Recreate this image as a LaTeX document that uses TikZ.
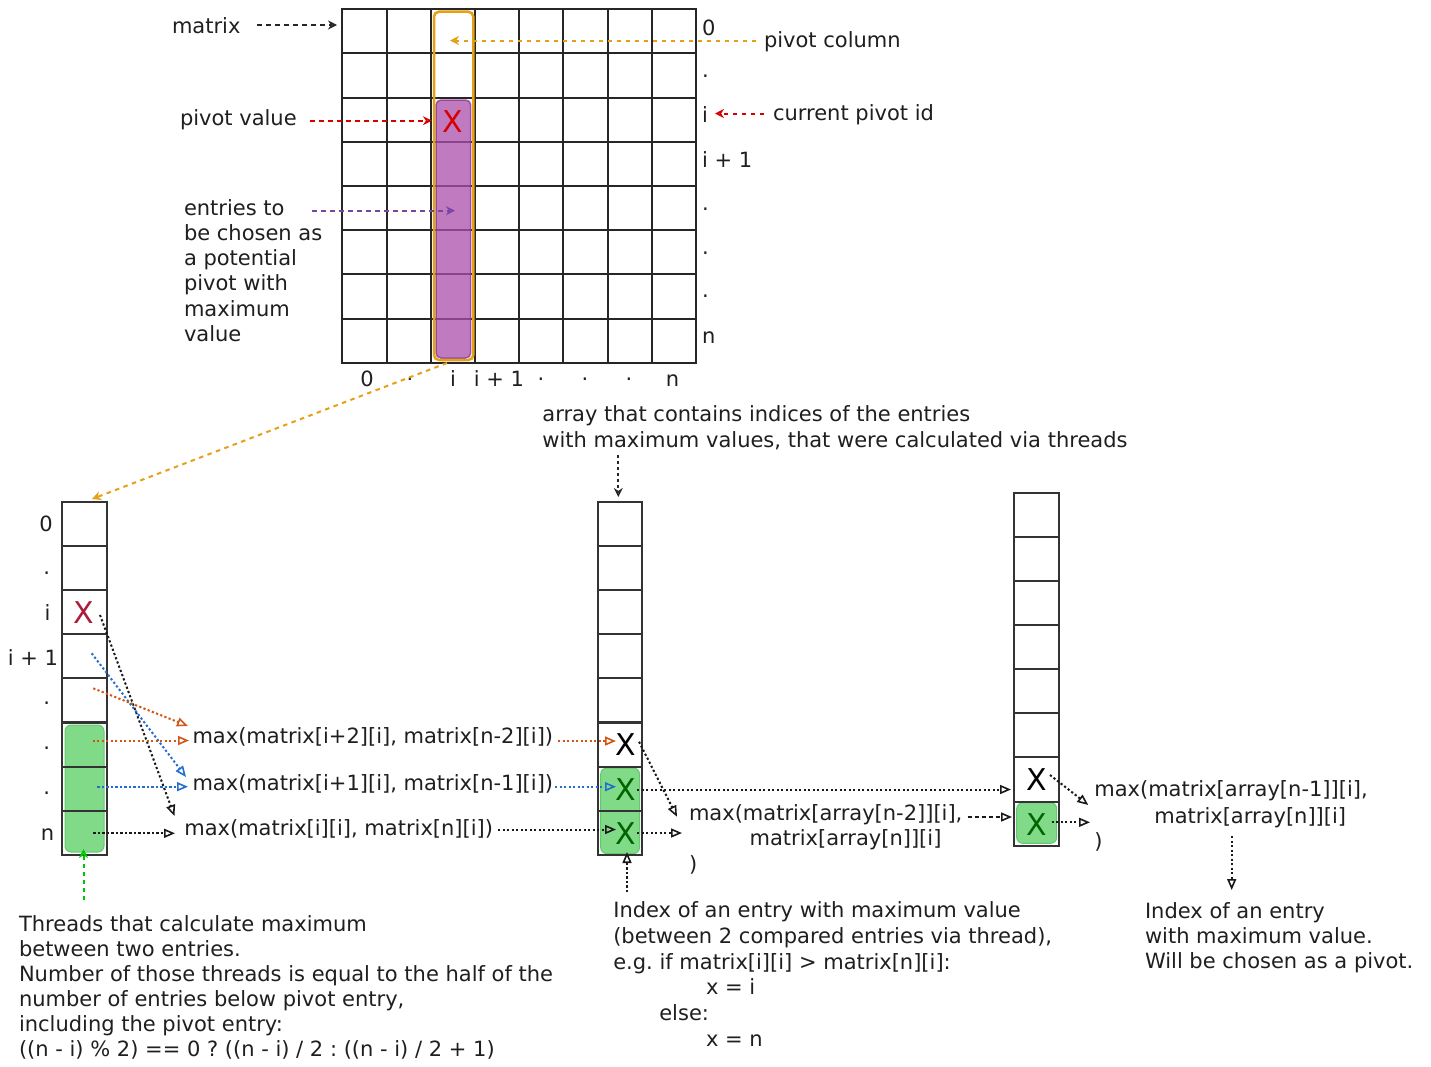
\documentclass[tikz,border=0pt]{standalone}
\usepackage{fontspec}
\setmainfont{DejaVu Sans}
\usetikzlibrary{arrows.meta}
\frenchspacing
\definecolor{pivorange}{RGB}{230,160,20}
\definecolor{pivred}{RGB}{214,0,0}
\definecolor{pivpurple}{RGB}{171,80,171}
\definecolor{purpstroke}{RGB}{140,60,140}
\definecolor{purparrow}{RGB}{120,70,160}
\definecolor{xcrimson}{RGB}{170,30,60}
\definecolor{throrange}{RGB}{210,85,20}
\definecolor{thrblue}{RGB}{35,110,205}
\definecolor{grnfill}{RGB}{128,218,136}
\definecolor{grnline}{RGB}{100,200,110}
\definecolor{darkgrn}{RGB}{0,100,0}
\definecolor{grnarrow}{RGB}{0,200,0}
\begin{document}
\frenchspacing
\begin{tikzpicture}[x=1pt,y=-1pt,
  txt/.style={inner sep=0pt, outer sep=0pt, anchor=base west, text=black!88, font=\fontsize{21}{25.4}\selectfont\frenchspacing},
  lbl/.style={txt, anchor=base},
  gridline/.style={line width=2pt, black!85, line cap=rect},
  cellbox/.style={draw=black!80, line width=2pt, minimum width=#1, minimum height=44.1pt, inner sep=0pt, outer sep=0pt},
  xmark/.style={inner sep=0pt, outer sep=0pt, font=\fontsize{30}{30}\selectfont},
  grnbox/.style={fill=grnfill, draw=grnline, line width=1pt, rounded corners=6pt},
  dashArr/.style={line width=2pt, dash pattern=on 4.5pt off 4.5pt, -{Stealth[length=9pt,width=9pt,open,line width=1.6pt]}},
  dotArr/.style={line width=2pt, dash pattern=on 2.2pt off 2.3pt, -{Triangle[open,length=11pt,width=9pt,line width=1.6pt]}},
]
\useasboundingbox (0,0) rectangle (1431,1066);
\fill[white] (0,0) rectangle (1431,1066);

% ---------------- matrix grid ----------------
\foreach \i in {0,...,8} {
  \draw[gridline] ({342.3+44.21*\i},9.3) -- ({342.3+44.21*\i},362.7);
  \draw[gridline] (342.3,{9.3+44.18*\i}) -- (696,{9.3+44.18*\i});
}
\node[draw=purpstroke, fill=pivpurple, fill opacity=0.75, draw opacity=0.8, line width=1.5pt,
      rounded corners=5pt, minimum width=34.7pt, minimum height=258pt, inner sep=0pt, outer sep=0pt]
      (cand) at (453.35,229) {};
\node[draw=pivorange, line width=2.5pt, rounded corners=5pt, minimum width=39.3pt,
      minimum height=348.3pt, inner sep=0pt, outer sep=0pt] (pivcol) at (453.65,185.85) {};
\node[xmark, text=pivred] (mX) at (452.5,121.7) {X};

% right-hand row labels
\node[txt] (r0) at (702,35) {0};
\node[txt] (r1) at (702,77) {.};
\node[txt] (r2) at (702,122) {i};
\node[txt] (r3) at (702,167) {i + 1};
\node[txt] (r4) at (702,210) {.};
\node[txt] (r5) at (702,254) {.};
\node[txt] (r6) at (702,297) {.};
\node[txt] (r7) at (702,343) {n};
% bottom column labels
\node[lbl] (c0) at (367,386) {0};
\node[lbl] (c1) at (410,386) {·};
\node[lbl] (c2) at (453,386) {i};
\node[lbl] (c3) at (499,386) {i + 1};
\node[lbl] (c4) at (541,386) {·};
\node[lbl] (c5) at (585,386) {·};
\node[lbl] (c6) at (629,386) {·};
\node[lbl] (c7) at (672.5,386) {n};

% left-hand annotations
\node[txt] (tMatrix) at (172,33.3) {matrix};
\node[txt] (tPivVal) at (180,125.5) {pivot value};
\node[txt, align=left, font=\fontsize{21}{25.3}\selectfont] (tEntries) at (184,341.5)
  {entries to\\be chosen as\\a potential\\pivot with\\maximum\\value};
\node[txt] (tPivCol) at (764,47) {pivot column};
\node[txt] (tCurId) at (773,120) {current pivot id};

\coordinate (aMs) at (257,25);      \coordinate (aMe) at (337,25);
\coordinate (aPVs) at (310,120.7);  \coordinate (aPVe) at (432,120.7);
\coordinate (aPCs) at (756,40.5);   \coordinate (aPCe) at (450,40.5);
\coordinate (aCIs) at (764,113.5);  \coordinate (aCIe) at (715,113.5);
\coordinate (aEs) at (312,210.7);   \coordinate (aEe) at (455,210.7);
\coordinate (aDs) at (447,363);     \coordinate (aDe) at (92,499);
\draw[dashArr, black!85] (aMs) -- (aMe);
\draw[dashArr, pivred] (aPVs) -- (aPVe);
\draw[dashArr, pivorange] (aPCs) -- (aPCe);
\draw[dashArr, pivred] (aCIs) -- (aCIe);
\draw[dashArr, purparrow] (aEs) -- (aEe);
\draw[dashArr, pivorange] (aDs) -- (aDe);

% ---------------- left array ----------------
\node[grnbox, minimum width=39pt, minimum height=127pt, inner sep=0pt] (Lg) at (84.5,788.5) {};
\foreach \k in {0,...,7} {
  \node[cellbox=44.2pt] (L\k) at (84.4,{501.7+44.16*\k+22.08}) {};
}
\node[xmark, text=xcrimson] (LX) at (83.3,612.7) {X};
\node[lbl] (l0) at (46,531.7) {0};
\node[lbl] (l1) at (46.7,574) {.};
\node[lbl] (l2) at (47.5,620) {i};
\node[lbl] (l3) at (33,665) {i + 1};
\node[lbl] (l4) at (46.7,704) {.};
\node[lbl] (l5) at (46.7,749) {.};
\node[lbl] (l6) at (46.7,794) {.};
\node[lbl] (l7) at (47.5,840) {n};

% thread labels
\node[txt] (m2) at (192.5,743.3) {max(matrix[i+2][i], matrix[n-2][i])};
\node[txt] (m1) at (192.5,790) {max(matrix[i+1][i], matrix[n-1][i])};
\node[txt] (m0) at (184.3,835) {max(matrix[i][i], matrix[n][i])};

\coordinate (t1s) at (100,615);    \coordinate (t1e) at (174.5,816);
\coordinate (t2s) at (91.7,653.3); \coordinate (t2e) at (186,777);
\coordinate (t3s) at (93.3,688.3); \coordinate (t3e) at (188,726);
\coordinate (t4s) at (92.7,740.5); \coordinate (t4e) at (189,740.5);
\coordinate (t5s) at (97.3,786.7); \coordinate (t5e) at (188,786.7);
\coordinate (t6s) at (93.3,833.3); \coordinate (t6e) at (175,833.3);
\draw[dotArr, black!90] (t1s) -- (t1e);
\draw[dotArr, thrblue] (t2s) -- (t2e);
\draw[dotArr, throrange] (t3s) -- (t3e);
\draw[dotArr, throrange] (t4s) -- (t4e);
\draw[dotArr, thrblue] (t5s) -- (t5e);
\draw[dotArr, black!90] (t6s) -- (t6e);

% green thread arrow + text
\coordinate (gS) at (83.5,900); \coordinate (gE) at (83.5,849);
\draw[dashArr, grnarrow, dash pattern=on 4pt off 4pt] (gS) -- (gE);
\node[txt, align=left, font=\fontsize{21}{25.0}\selectfont\frenchspacing] (tThreads) at (19,1056.7)
  {Threads that calculate maximum\\between two entries.\\Number of those threads is equal to the half of the\\number of entries below pivot entry,\\including the pivot entry:\\((n - i) \% 2) == 0 ? ((n - i) / 2 : ((n - i) / 2 + 1)};

% ---------------- middle array ----------------
\node[grnbox, minimum width=38.8pt, minimum height=85.5pt, inner sep=0pt] (Mg) at (620.1,810.8) {};
\foreach \k in {0,...,7} {
  \node[cellbox=43.8pt] (M\k) at (619.9,{501.7+44.16*\k+22.08}) {};
}
\node[xmark, text=black] (MX5) at (625.7,745) {X};
\node[xmark, text=darkgrn] (MX6) at (625.7,790) {X};
\node[xmark, text=darkgrn] (MX7) at (625.7,833.3) {X};

\node[txt, align=left] (tArray) at (542.4,447)
  {array that contains indices of the entries\\with maximum values, that were calculated via threads};
\coordinate (arS) at (618.3,455); \coordinate (arE) at (618.3,497);
\draw[dashArr, black!85, dash pattern=on 3pt off 3pt] (arS) -- (arE);

\coordinate (o1s) at (558,741);   \coordinate (o1e) at (616,741);
\coordinate (o2s) at (555,786.7); \coordinate (o2e) at (616,786.7);
\coordinate (o3s) at (498,829.5); \coordinate (o3e) at (616,829.5);
\draw[dotArr, throrange] (o1s) -- (o1e);
\draw[dotArr, thrblue] (o2s) -- (o2e);
\draw[dotArr, black!90] (o3s) -- (o3e);

\coordinate (iS) at (627,892); \coordinate (iE) at (627,852);
\draw[dotArr, black!90] (iS) -- (iE);
\node[txt, align=left, font=\fontsize{21}{25.8}\selectfont\frenchspacing] (tIndex) at (613.3,1046.5)
  {Index of an entry with maximum value\\(between 2 compared entries via thread),\\e.g. if matrix[i][i] > matrix[n][i]:\\\hspace*{92.7pt}x = i\\\hspace*{46pt}else:\\\hspace*{92.7pt}x = n};

\node[txt] (mm1) at (689,820) {max(matrix[array[n-2]][i],};
\node[txt] (mm2) at (749.6,845.7) {matrix[array[n]][i]};
\node[txt] (mm3) at (689,871.7) {)};

\coordinate (p1s) at (639,741.7);  \coordinate (p1e) at (677,816.7);
\coordinate (p2s) at (637,789.5);  \coordinate (p2e) at (1011,789.5);
\coordinate (p3s) at (637,833);    \coordinate (p3e) at (682,833);
\coordinate (p4s) at (967.5,817);  \coordinate (p4e) at (1012,817);
\draw[dotArr, black!90] (p1s) -- (p1e);
\draw[dotArr, black!90] (p2s) -- (p2e);
\draw[dotArr, black!90] (p3s) -- (p3e);
\draw[dotArr, black!90, dash pattern=on 4pt off 3pt] (p4s) -- (p4e);

% ---------------- right array ----------------
\node[grnbox, minimum width=40pt, minimum height=40.6pt, inner sep=0pt] (Rg) at (1036.7,823) {};
\foreach \k in {0,...,7} {
  \node[cellbox=45pt] (R\k) at (1036.5,{492.7+44.125*\k+22.06}) {};
}
\node[xmark, text=black] (RX6) at (1036.7,780) {X};
\node[xmark, text=darkgrn] (RX7) at (1036.7,825) {X};

\node[txt] (rr1) at (1094.3,796.7) {max(matrix[array[n-1]][i],};
\node[txt] (rr2) at (1154.3,823.3) {matrix[array[n]][i]};
\node[txt] (rr3) at (1094.3,848) {)};

\coordinate (q1s) at (1050,775);    \coordinate (q1e) at (1088.3,805);
\coordinate (q2s) at (1051.7,822.3);\coordinate (q2e) at (1090,822.3);
\coordinate (q3s) at (1231.7,836);  \coordinate (q3e) at (1231.7,890);
\draw[dotArr, black!90] (q1s) -- (q1e);
\draw[dotArr, black!90] (q2s) -- (q2e);
\draw[dotArr, black!90] (q3s) -- (q3e);

\node[txt, align=left, font=\fontsize{21}{25}\selectfont\frenchspacing] (tFinal) at (1145,968.3)
  {Index of an entry\\with maximum value.\\Will be chosen as a pivot.};
\end{tikzpicture}
\end{document}
